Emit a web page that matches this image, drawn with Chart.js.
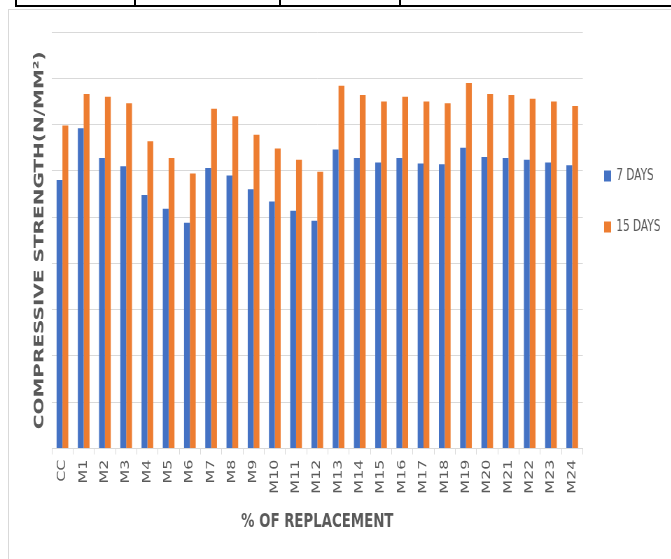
<!DOCTYPE html>
<html>
<head>
<meta charset="utf-8">
<title>Compressive strength</title>
<script src="https://cdn.jsdelivr.net/npm/chart.js@4.4.1/dist/chart.umd.min.js"></script>
<style>
  html, body { margin: 0; padding: 0; background: #fff; width: 671px; height: 559px; overflow: hidden; }
  #sheet { position: absolute; left: 0; top: 0; width: 671px; height: 559px; overflow: hidden; background: #fff; }
  .rule { position: absolute; background: #000; }
  #frame { position: absolute; left: 8px; top: 9px; width: 720px; height: 620px; border: 1px solid #d9d9d9; }
  /* the chart is laid out on a wider surface and squeezed horizontally */
  #plot { position: absolute; left: 0; top: 0; width: 959px; height: 559px; transform: scaleX(0.7); transform-origin: 0 0; }
  #plot canvas { display: block; }
</style>
</head>
<body>
<div id="sheet">
  <div class="rule" style="left:15px; top:5px; width:660px; height:2px;"></div>
  <div class="rule" style="left:15px; top:0; width:2px; height:7px;"></div>
  <div class="rule" style="left:134px; top:0; width:2px; height:7px;"></div>
  <div class="rule" style="left:279px; top:0; width:2px; height:7px;"></div>
  <div class="rule" style="left:399px; top:0; width:2px; height:7px;"></div>
  <div id="frame"></div>
  <div id="plot"><canvas id="chart" width="959" height="559" style="width:959px;height:559px;"></canvas></div>
</div>
<script>
// Mix designations along the x axis
const categories = ['CC', 'M1', 'M2', 'M3', 'M4', 'M5', 'M6', 'M7', 'M8', 'M9', 'M10', 'M11', 'M12',
  'M13', 'M14', 'M15', 'M16', 'M17', 'M18', 'M19', 'M20', 'M21', 'M22', 'M23', 'M24'];

// Compressive strength (N/mm²) after 7 days of curing
const strength7Days = [29.0, 34.6, 31.4, 30.5, 27.4, 25.9, 24.4, 30.3, 29.5, 28.0, 26.7, 25.7, 24.6,
  32.3, 31.4, 30.9, 31.4, 30.8, 30.7, 32.5, 31.5, 31.4, 31.2, 30.9, 30.6];

// Compressive strength (N/mm²) after 15 days of curing
const strength15Days = [34.9, 38.3, 38.0, 37.3, 33.2, 31.4, 29.7, 36.7, 35.9, 33.9, 32.4, 31.2, 29.9,
  39.2, 38.2, 37.5, 38.0, 37.5, 37.3, 39.5, 38.3, 38.2, 37.8, 37.5, 37.0];

const seriesNames = ['7 DAYS', '15 DAYS'];
const xAxisTitle = '% OF REPLACEMENT';
const yAxisTitle = 'COMPRESSIVE STRENGTH(N/MM²)';

// value axis range (gridlines every step, no printed labels)
const yMin = 0;
const yMax = 45;
const yStep = 5;

const textGrey = '#595959';
const gridGrey = '#d9d9d9';
const fontFamily = "'DejaVu Sans', 'Verdana', sans-serif";

// legend sits a little lower and closer to the plot than the default layout puts it
const LEGEND_DX = -5.6;
const LEGEND_DY = 100.5;
const legendPlacement = {
  id: 'legendPlacement',
  afterLayout(chart) {
    const lg = chart.legend;
    if (!lg) return;
    lg.left += LEGEND_DX; lg.right += LEGEND_DX;
    lg.top += LEGEND_DY; lg.bottom += LEGEND_DY;
  }
};

new Chart(document.getElementById('chart'), {
  type: 'bar',
  data: {
    labels: categories,
    datasets: [
      { label: seriesNames[0], data: strength7Days, backgroundColor: '#4472c4', borderWidth: 0 },
      { label: seriesNames[1], data: strength15Days, backgroundColor: '#ed7d31', borderWidth: 0 }
    ]
  },
  options: {
    responsive: false,
    animation: false,
    datasets: { bar: { categoryPercentage: 0.55, barPercentage: 1.0 } },
    layout: { padding: { top: 32, left: 0, right: 0, bottom: 0 } },
    plugins: {
      tooltip: { enabled: false },
      legend: {
        position: 'right',
        align: 'start',
        labels: {
          boxWidth: 10,
          boxHeight: 11,
          padding: 36,
          color: textGrey,
          font: { family: fontFamily, size: 15 }
        }
      }
    },
    scales: {
      x: {
        offset: true,
        grid: { display: true, drawOnChartArea: false, drawTicks: true, tickLength: 6, color: gridGrey, offset: true },
        border: { color: gridGrey },
        ticks: {
          autoSkip: false, minRotation: 90, maxRotation: 90, padding: 5,
          color: textGrey, font: { family: fontFamily, size: 16 }
        },
        title: {
          display: true, text: xAxisTitle, color: textGrey,
          font: { family: fontFamily, size: 19, weight: 'bold' },
          padding: { top: 0, bottom: 26 }
        },
        afterFit(scale) { scale.height = 110.5; }
      },
      y: {
        min: yMin, max: yMax,
        ticks: { display: false, stepSize: yStep },
        grid: { color: gridGrey, drawTicks: false },
        border: { display: false },
        title: {
          display: true, text: yAxisTitle, color: textGrey,
          font: { family: fontFamily, size: 20, weight: 'bold' },
          padding: { top: 45, bottom: 0 }
        },
        afterFit(scale) { scale.width = 74; }
      }
    }
  },
  plugins: [legendPlacement]
});
</script>
</body>
</html>
